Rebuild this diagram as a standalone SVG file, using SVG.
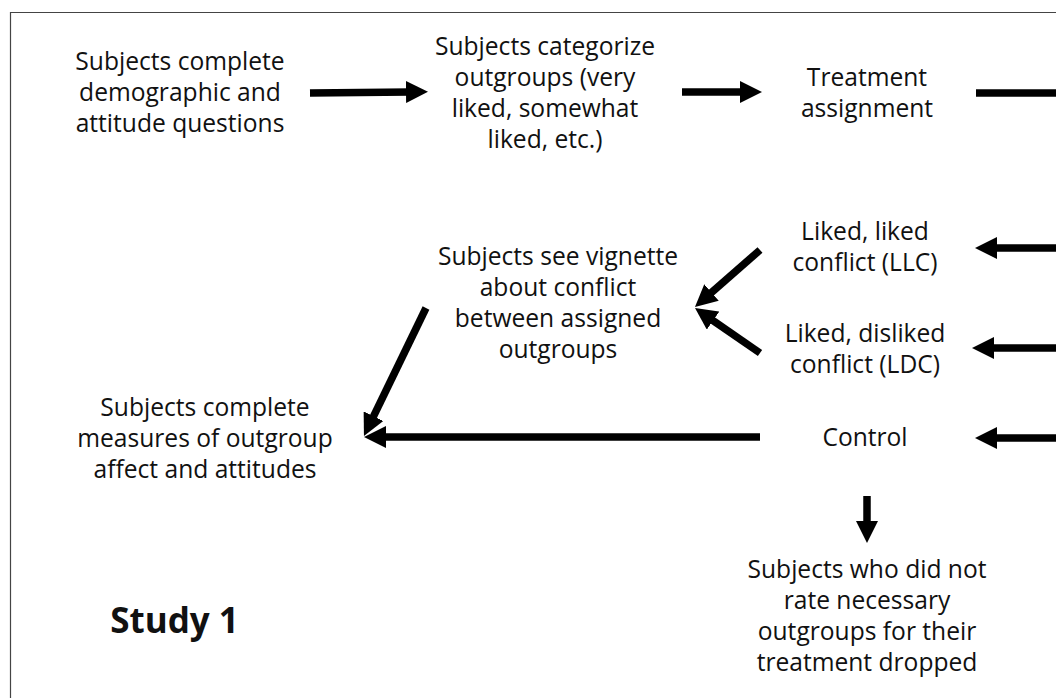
<svg xmlns="http://www.w3.org/2000/svg" width="1056" height="698" viewBox="0 0 1056 698">
  <defs>
    <marker id="head" markerUnits="userSpaceOnUse" viewBox="0 0 22 22" markerWidth="22" markerHeight="22" refX="4" refY="11" orient="auto">
      <polygon points="0,0 22,11 0,22" fill="#000"/>
    </marker>
    <style>
      text { font-family: "Open Sans", "Noto Sans", "Liberation Sans", sans-serif; font-size: 24.6px; fill: #111; text-anchor: middle; }
      .title { font-weight: bold; font-size: 35px; }
      .conn line { stroke: #000; stroke-width: 7.5; }
      .arrow { marker-end: url(#head); }
    </style>
  </defs>

  <rect width="1056" height="698" fill="#fff"/>
  <!-- frame -->
  <path d="M10.5,698 V12.5 H1056" fill="none" stroke="#444" stroke-width="1.2"/>

  <g id="demographics">
    <text x="180" y="70">Subjects complete</text>
    <text x="180" y="101">demographic and</text>
    <text x="180" y="132">attitude questions</text>
  </g>
  <g id="categorize">
    <text x="545" y="55">Subjects categorize</text>
    <text x="545" y="86">outgroups (very</text>
    <text x="545" y="117">liked, somewhat</text>
    <text x="545" y="148">liked, etc.)</text>
  </g>
  <g id="treatment">
    <text x="867" y="86">Treatment</text>
    <text x="867" y="117">assignment</text>
  </g>
  <g id="llc">
    <text x="865" y="240">Liked, liked</text>
    <text x="865" y="271">conflict (LLC)</text>
  </g>
  <g id="ldc">
    <text x="865" y="342">Liked, disliked</text>
    <text x="865" y="373">conflict (LDC)</text>
  </g>
  <g id="control">
    <text x="865" y="446">Control</text>
  </g>
  <g id="vignette">
    <text x="558" y="265">Subjects see vignette</text>
    <text x="558" y="296">about conflict</text>
    <text x="558" y="327">between assigned</text>
    <text x="558" y="358">outgroups</text>
  </g>
  <g id="measures">
    <text x="205" y="416">Subjects complete</text>
    <text x="205" y="447">measures of outgroup</text>
    <text x="205" y="478">affect and attitudes</text>
  </g>
  <g id="dropped">
    <text x="867" y="578">Subjects who did not</text>
    <text x="867" y="609">rate necessary</text>
    <text x="867" y="640">outgroups for their</text>
    <text x="867" y="671">treatment dropped</text>
  </g>
  <g id="study-label">
    <text class="title" x="174.5" y="633">Study 1</text>
  </g>

  <g class="conn" id="connectors">
    <line class="arrow" x1="310" y1="93" x2="410" y2="92"/>
    <line class="arrow" x1="682" y1="92" x2="744" y2="92"/>
    <line x1="976" y1="93" x2="1060" y2="93"/>
    <line class="arrow" x1="1060" y1="248" x2="993" y2="248"/>
    <line class="arrow" x1="1060" y1="348" x2="990" y2="348"/>
    <line class="arrow" x1="1060" y1="438" x2="993" y2="438"/>
    <line class="arrow" x1="760" y1="250" x2="708.5" y2="295.1"/>
    <line class="arrow" x1="760" y1="353" x2="709.8" y2="318.3"/>
    <line class="arrow" x1="760" y1="437" x2="382" y2="437"/>
    <line class="arrow" x1="426" y1="308" x2="371.8" y2="419.8"/>
    <line class="arrow" x1="867" y1="496" x2="867" y2="525"/>
  </g>
</svg>
